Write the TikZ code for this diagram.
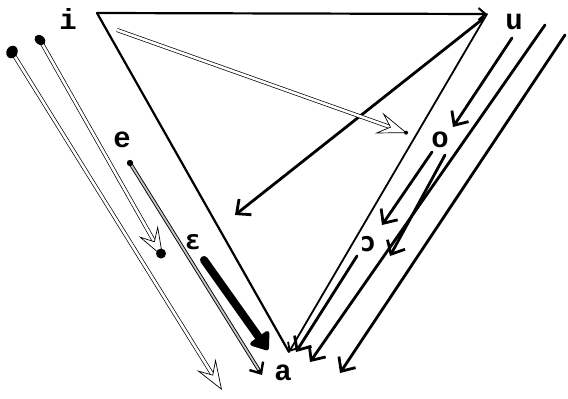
\documentclass[tikz,border=0pt]{standalone}
\usepackage{fontspec}
\newfontfamily\lblfont{Liberation Mono}
\newfontfamily\ipafont{DejaVu Sans Mono}
\usetikzlibrary{arrows.meta,calc}
\begin{document}
\begin{tikzpicture}[x=1pt,y=-1pt,
  lbl/.style={font=\lblfont\bfseries\fontsize{29}{29}\selectfont, inner sep=0pt},
  ipalbl/.style={font=\ipafont\bfseries\fontsize{27}{27}\selectfont, inner sep=0pt},
  edgeline/.style={line width=2.2pt, line cap=round},
  thinedge/.style={line width=1.8pt, line cap=round},
  barb/.style={line width=2.8pt, line cap=round, -{Straight Barb[length=11pt,width=20pt,line width=2.8pt]}},
  bigbarb/.style={line width=8pt, line cap=round, -{Triangle[length=18pt,width=26pt,round]}},
  hshaft/.style={double=white, double distance=2.6pt, line width=0.7pt},
  hhead/.style={line width=0.7pt, -{Stealth[length=30pt,width=22pt,inset=12pt,fill=white]}},
  eshaft/.style={double=gray!45, double distance=1.8pt, line width=0.9pt},
  blob/.style={fill=black}
]
\useasboundingbox (0,0) rectangle (568,399);

% vertices of the triangle
\coordinate (I) at (97,13);
\coordinate (U) at (487,14);
\coordinate (A) at (289,352);

% labels
\node[lbl] (li) at (68,19) {i};
\node[lbl] (lu) at (514,22) {u};
\node[lbl] (le) at (122,140) {e};
\node[ipalbl] (leps) at (193,242) {ε};
\node[lbl] (lo) at (440,140) {o};
\node[ipalbl] (loo) at (368,244) {ɔ};
\node[lbl] (la) at (283,373) {a};

% triangle
\draw[edgeline] (I) -- (A);
\draw[thinedge, -{Straight Barb[length=7pt,width=12pt,line width=1.8pt]}] (U) -- (A);
\draw[edgeline, -{Straight Barb[length=7pt,width=12pt,line width=2pt]}] (I) -- (U);

% arrow from the u corner
\coordinate (c1) at (484,18);
\coordinate (c2) at (235,215);
\draw[barb] (c1) -- (c2);

% u arrow
\coordinate (u1) at (512,38);
\coordinate (u2) at (453,127);
\draw[barb] (u1) -- (u2);

% long lines on the right
\coordinate (r1s) at (545,25);
\coordinate (r1e) at (310,362);
\draw[barb] (r1s) -- (r1e);
\coordinate (r2s) at (565,35);
\coordinate (r2e) at (340,373);
\draw[barb] (r2s) -- (r2e);

% o arrows
\coordinate (o1s) at (432,152);
\coordinate (o1e) at (382,225);
\draw[barb] (o1s) -- (o1e);
\coordinate (o2s) at (445,155);
\coordinate (o2e) at (390,256);
\draw[barb] (o2s) -- (o2e);

% open o arrow
\coordinate (p1s) at (357,256);
\coordinate (p1e) at (296,352);
\draw[barb] (p1s) -- (p1e);

% epsilon arrow
\coordinate (eps1) at (204,260);
\coordinate (eps2) at (268,350);
\draw[bigbarb] (eps1) -- (eps2);

% e arrow
\coordinate (e1) at (130,163);
\coordinate (e2) at (262,375);
\draw[eshaft] (e1) -- ($(e2)!4pt!(e1)$);
\draw[line width=2.4pt, -{Straight Barb[length=9pt,width=16pt,line width=2.4pt]}] ($(e2)!6pt!(e1)$) -- (e2);
\fill[blob] (e1) circle (3.2pt);

% hollow arrows
\coordinate (h1s) at (12,52);
\coordinate (h1e) at (222,390);
\draw[hshaft] (h1s) -- ($(h1e)!12pt!(h1s)$);
\draw[hhead] ($(h1e)!2pt!(h1s)$) -- (h1e);
\fill[blob, rotate around={-30:(h1s)}] (h1s) ellipse (5.5pt and 6.5pt);

\coordinate (h2s) at (40,40);
\coordinate (h2e) at (163,257);
\draw[hshaft] (h2s) -- ($(h2e)!12pt!(h2s)$);
\draw[hhead] ($(h2e)!2pt!(h2s)$) -- (h2e);
\fill[blob, rotate around={-40:(h2s)}] (h2s) ellipse (6pt and 4.5pt);
\fill[blob] ($(h2e)!4pt!(h2s)$) circle (5pt);

\coordinate (h3s) at (117,30);
\coordinate (h3e) at (407,133);
\draw[hshaft] (h3s) -- ($(h3e)!12pt!(h3s)$);
\draw[hhead] ($(h3e)!2pt!(h3s)$) -- (h3e);
\fill[blob] ($(h3e)!1pt!(h3s)$) circle (2pt);
\end{tikzpicture}
\end{document}
